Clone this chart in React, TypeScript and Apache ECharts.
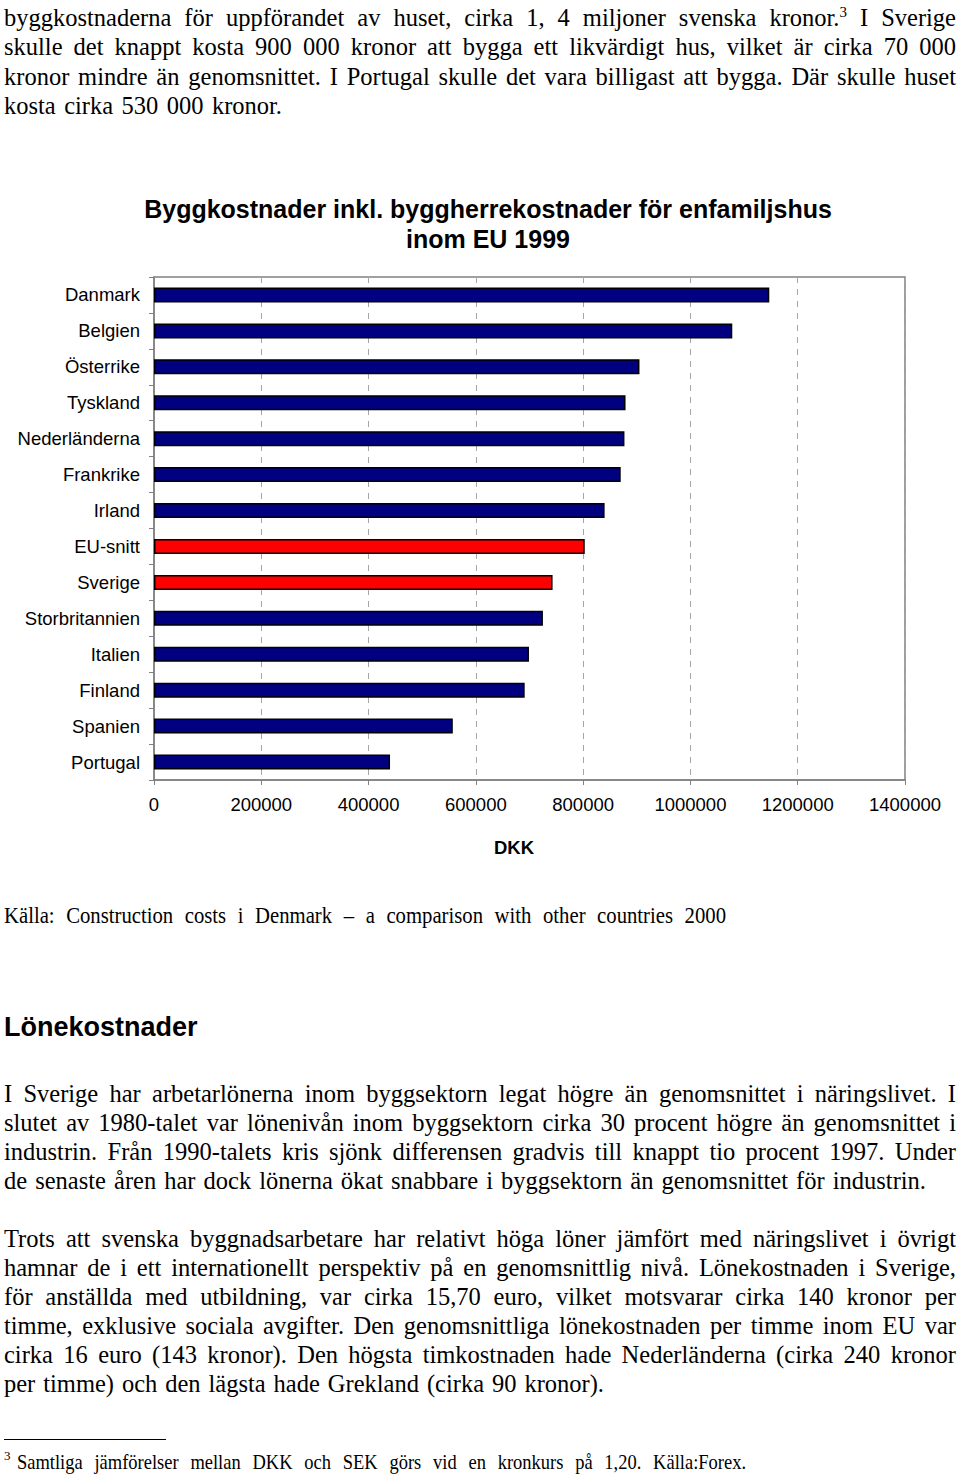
import React, { useEffect, useRef } from "react";
import * as echarts from "echarts";

const categories = [
  "Danmark",
  "Belgien",
  "Österrike",
  "Tyskland",
  "Nederländerna",
  "Frankrike",
  "Irland",
  "EU-snitt",
  "Sverige",
  "Storbritannien",
  "Italien",
  "Finland",
  "Spanien",
  "Portugal",
];
const values = [
  1147000, 1078000, 905000, 879000, 877000, 870000, 840000, 803000, 743000,
  725000, 699000, 691000, 557000, 440000,
];
const highlighted = ["EU-snitt", "Sverige"];
const axisMin = 0;
const axisMax = 1400000;
const axisStep = 200000;

const chartTitle =
  "Byggkostnader inkl. byggherrekostnader för enfamiljshus\ninom EU 1999";
const axisName = "DKK";

type LineSpec = { y: number; text: string; justify: boolean; width?: number };

const para1: LineSpec[] = [
  { y: 18, text: "byggkostnaderna för uppförandet av huset, cirka 1, 4 miljoner svenska kronor.^3^ I Sverige", justify: true },
  { y: 47, text: "skulle det knappt kosta 900 000 kronor att bygga ett likvärdigt hus, vilket är cirka 70 000", justify: true },
  { y: 77, text: "kronor mindre än genomsnittet. I Portugal skulle det vara billigast att bygga. Där skulle huset", justify: true },
  { y: 106, text: "kosta cirka 530 000 kronor.", justify: true, width: 278 },
];
const para2: LineSpec[] = [
  { y: 1094, text: "I Sverige har arbetarlönerna inom byggsektorn legat högre än genomsnittet i näringslivet. I", justify: true },
  { y: 1123, text: "slutet av 1980-talet var lönenivån inom byggsektorn cirka 30 procent högre än genomsnittet i", justify: true },
  { y: 1152, text: "industrin. Från 1990-talets kris sjönk differensen gradvis till knappt tio procent 1997. Under", justify: true },
  { y: 1181, text: "de senaste åren har dock lönerna ökat snabbare i byggsektorn än genomsnittet för industrin.", justify: true, width: 922 },
];
const para3: LineSpec[] = [
  { y: 1239, text: "Trots att svenska byggnadsarbetare har relativt höga löner jämfört med näringslivet i övrigt", justify: true },
  { y: 1268, text: "hamnar de i ett internationellt perspektiv på en genomsnittlig nivå. Lönekostnaden i Sverige,", justify: true },
  { y: 1297, text: "för anställda med utbildning, var cirka 15,70 euro, vilket motsvarar cirka 140 kronor per", justify: true },
  { y: 1326, text: "timme, exklusive sociala avgifter. Den genomsnittliga lönekostnaden per timme inom EU var", justify: true },
  { y: 1355, text: "cirka 16 euro (143 kronor). Den högsta timkostnaden hade Nederländerna (cirka 240 kronor", justify: true },
  { y: 1384, text: "per timme) och den lägsta hade Grekland (cirka 90 kronor).", justify: true, width: 600 },
];

const serif = "'Liberation Serif', 'Times New Roman', serif";
const sans = "'Liberation Sans', Arial, sans-serif";

function renderText(text: string) {
  const parts = text.split("^");
  return parts.map((p, i) =>
    i % 2 === 1 ? (
      <span key={i} style={{ fontSize: 15, position: "relative", top: -9 }}>
        {p}
      </span>
    ) : (
      <span key={i}>{p}</span>
    )
  );
}

function TextLine({
  spec,
  size,
  sx = 1,
  lh = 29.3,
  left = 4,
}: {
  spec: LineSpec;
  size: number;
  sx?: number;
  lh?: number;
  left?: number;
}) {
  const w = spec.width ?? 952;
  return (
    <div
      style={{
        position: "absolute",
        left,
        top: spec.y - lh / 2,
        width: w / sx,
        height: lh,
        lineHeight: lh + "px",
        fontFamily: serif,
        fontSize: size,
        color: "#000",
        textAlign: spec.justify ? "justify" : "left",
        textAlignLast: spec.justify ? "justify" : "left",
        transform: sx !== 1 ? `scaleX(${sx})` : undefined,
        transformOrigin: "0 0",
      } as React.CSSProperties}
    >
      {renderText(spec.text)}
    </div>
  );
}

function Chart() {
  const ref = useRef<HTMLDivElement>(null);
  useEffect(() => {
    if (!ref.current) return;
    const chart = echarts.init(ref.current, undefined, { renderer: "svg" });
    chart.setOption({
      animation: false,
      backgroundColor: "#ffffff",
      title: {
        text: chartTitle,
        left: 483,
        top: 9,
        textAlign: "center",
        textStyle: {
          fontFamily: sans,
          fontSize: 25,
          fontWeight: "bold",
          color: "#000",
          lineHeight: 30,
        },
      },
      grid: {
        left: 154,
        right: 55,
        top: 97,
        bottom: 100,
        show: true,
        borderColor: "#808080",
        borderWidth: 1.5,
        backgroundColor: "#ffffff",
        outerBoundsMode: "none",
      },
      xAxis: {
        type: "value",
        min: axisMin,
        max: axisMax,
        interval: axisStep,
        name: axisName,
        nameLocation: "middle",
        nameGap: 58,
        nameTextStyle: {
          fontFamily: sans,
          fontSize: 18.5,
          fontWeight: "bold",
          color: "#000",
          padding: [0, 31, 0, 0],
        },
        axisLine: { show: true, lineStyle: { color: "#808080", width: 1.5 } },
        axisTick: { show: true, length: 5, lineStyle: { color: "#808080" } },
        axisLabel: {
          color: "#000",
          fontFamily: sans,
          fontSize: 18.5,
          margin: 15,
          formatter: (v: number) => String(v),
        },
        splitLine: {
          show: true,
          lineStyle: { color: "#a6a6a6", type: [6, 6], width: 1 },
        },
      },
      yAxis: {
        type: "category",
        data: categories,
        inverse: true,
        axisLine: { show: true, lineStyle: { color: "#808080", width: 1.5 } },
        axisTick: { show: true, length: 5, lineStyle: { color: "#808080" } },
        axisLabel: {
          color: "#000",
          fontFamily: sans,
          fontSize: 18.5,
          margin: 14,
        },
        splitLine: { show: false },
      },
      series: [
        {
          type: "bar",
          barWidth: 15,
          data: values.map((v, i) => ({
            value: v,
            itemStyle: {
              color: highlighted.includes(categories[i]) ? "#ff0000" : "#000080",
            },
          })),
          itemStyle: { borderColor: "#000000", borderWidth: 1.5 },
        },
      ],
    });
    return () => chart.dispose();
  }, []);
  return (
    <div
      ref={ref}
      style={{ position: "absolute", left: 0, top: 180, width: 960, height: 700 }}
    />
  );
}

export default function App() {
  return (
    <div
      style={{
        position: "absolute",
        left: 0,
        top: 0,
        width: 960,
        height: 1476,
        background: "#fff",
        overflow: "hidden",
      }}
    >
      {para1.map((s, i) => (
        <TextLine key={"a" + i} spec={s} size={24.5} />
      ))}
      <Chart />
      <TextLine
        spec={{
          y: 916,
          text: "Källa: Construction costs i Denmark – a comparison with other countries 2000",
          justify: true,
          width: 722,
        }}
        size={23}
        sx={0.9}
        lh={30}
      />
      <div
        style={{
          position: "absolute",
          left: 4,
          top: 1027 - 17,
          height: 34,
          lineHeight: "34px",
          fontFamily: sans,
          fontSize: 27,
          fontWeight: "bold",
          whiteSpace: "nowrap",
        }}
      >
        Lönekostnader
      </div>
      {para2.map((s, i) => (
        <TextLine key={"b" + i} spec={s} size={24.5} />
      ))}
      {para3.map((s, i) => (
        <TextLine key={"c" + i} spec={s} size={24.5} />
      ))}
      <div
        style={{
          position: "absolute",
          left: 4,
          top: 1439,
          width: 162,
          height: 1,
          background: "#000",
        }}
      />
      <div
        style={{
          position: "absolute",
          left: 4,
          top: 1448,
          width: 10,
          height: 15,
          lineHeight: "15px",
          fontFamily: serif,
          fontSize: 13,
        }}
      >
        3
      </div>
      <TextLine
        spec={{
          y: 1462,
          text: "Samtliga jämförelser mellan DKK och SEK görs vid en kronkurs på 1,20. Källa:Forex.",
          justify: true,
          width: 729,
        }}
        size={21}
        sx={0.88}
        lh={24}
        left={17}
      />
    </div>
  );
}
